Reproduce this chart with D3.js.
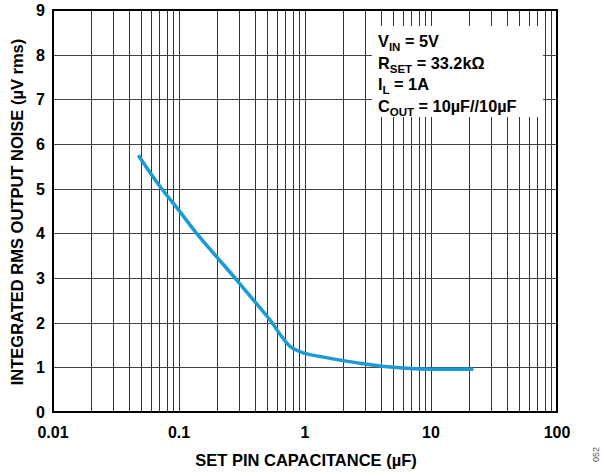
<!DOCTYPE html>
<html><head><meta charset="utf-8">
<script src="https://cdn.jsdelivr.net/npm/d3@7"></script>
<style>body{margin:0;background:#fff}svg{display:block}text{font-family:"Liberation Sans",Arial,sans-serif;font-weight:bold}</style>
</head><body>
<svg id="c" width="602" height="473"></svg>
<script>
const capacitance = [0.0475,0.0707,0.102,0.138,0.287,0.389,0.528,0.653,0.76,0.913,1.03,1.3,2.01,3.09,5.03,8.17,14,21.7];
const noise = [5.75,5.05,4.48,4.0,2.955,2.51,2.06,1.69,1.47,1.35,1.30,1.245,1.15,1.07,1.0,0.963,0.955,0.955];
const xTicks = [0.01,0.1,1,10,100];
const xTickLabels = ["0.01","0.1","1","10","100"];
const yTicks = [0,1,2,3,4,5,6,7,8,9];

const svg = d3.select("#c");
const L=53,R=557,T=10,B=412;
const x = d3.scaleLog().domain([0.01,100]).range([L,R]);
const y = d3.scaleLinear().domain([0,9]).range([B,T]);

const vlines=[];
for(let d=0.01; d<100; d*=10){ for(let k=1;k<=9;k++){ vlines.push(+(d*k).toPrecision(3)); } }
vlines.push(100);
svg.append("g").selectAll("line").data(vlines).join("line")
  .attr("x1",d=>Math.round(x(d))+0.5).attr("x2",d=>Math.round(x(d))+0.5)
  .attr("y1",T).attr("y2",B).attr("stroke","#333").attr("stroke-width",1);
svg.append("g").selectAll("line").data(yTicks).join("line")
  .attr("x1",L).attr("x2",R).attr("y1",d=>Math.round(y(d))+0.5).attr("y2",d=>Math.round(y(d))+0.5)
  .attr("stroke","#444").attr("stroke-width",1);

svg.append("rect").attr("x",372).attr("y",26).attr("width",171).attr("height",91).attr("fill","#fff");

svg.append("rect").attr("x",L).attr("y",T).attr("width",R-L).attr("height",B-T)
  .attr("fill","none").attr("stroke","#000").attr("stroke-width",2);

svg.append("path").datum(capacitance.map((c,i)=>[c,noise[i]]))
  .attr("d",d3.line().x(d=>x(d[0])).y(d=>y(d[1])).curve(d3.curveCatmullRom.alpha(0.5)))
  .attr("fill","none").attr("stroke","#1a9bd7").attr("stroke-width",3.5).attr("stroke-linecap","butt");

svg.append("g").selectAll("text").data(yTicks).join("text")
  .attr("x",45).attr("y",d=>y(d)+6).attr("text-anchor","end").attr("font-size",16).text(d=>d);
svg.append("g").selectAll("text").data(xTicks).join("text")
  .attr("x",d=>x(d)).attr("y",438).attr("text-anchor","middle").attr("font-size",16).text((d,i)=>xTickLabels[i]);

svg.append("text").attr("x",306).attr("y",466).attr("text-anchor","middle").attr("font-size",16.5)
  .text("SET PIN CAPACITANCE (µF)");
svg.append("text").attr("transform","translate(23,212) rotate(-90)").attr("text-anchor","middle").attr("font-size",16.5)
  .text("INTEGRATED RMS OUTPUT NOISE (µV rms)");

const ann=[["V","IN"," = 5V"],["R","SET"," = 33.2kΩ"],["I","L"," = 1A"],["C","OUT"," = 10µF//10µF"]];
ann.forEach((a,i)=>{
  const t=svg.append("text").attr("x",378).attr("y",47+i*21.7).attr("font-size",16.3);
  t.append("tspan").text(a[0]);
  t.append("tspan").attr("font-size",11.5).attr("dy",4).text(a[1]);
  t.append("tspan").attr("dy",-4).text(a[2]);
});

svg.append("text").attr("transform","translate(599,462) rotate(-90)").attr("font-size",9)
  .style("font-weight","normal").attr("fill","#555").text("052");
</script>
</body></html>
